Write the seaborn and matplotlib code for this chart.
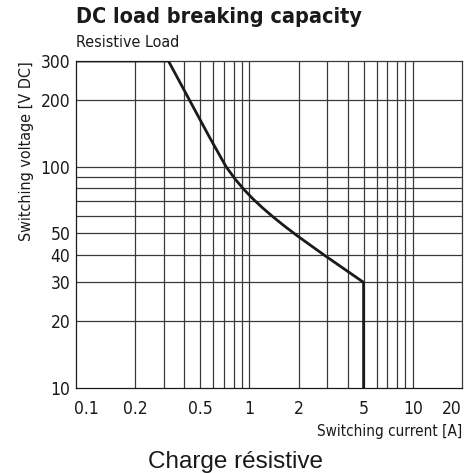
import matplotlib
matplotlib.use('Agg')
import matplotlib.pyplot as plt
import seaborn as sns
import numpy as np

# curve (current [A], voltage [V DC])
current = [0.087, 0.32, 0.43, 0.57, 0.72, 0.82, 0.93, 1.05, 1.2, 1.4, 1.65, 1.95,
           2.4, 2.85, 3.5, 4.2, 5.0, 5.0]
voltage = [300, 300, 200, 136, 100, 87.7, 78.6, 71.6, 65.3, 59.2, 53.7, 48.9,
           43.8, 40.0, 36.0, 32.8, 30, 10]

xticks = [0.1, 0.2, 0.5, 1, 2, 5, 10, 20]
xticklabels = ['0.1', '0.2', '0.5', '1', '2', '5', '10', '20']
yticks = [10, 20, 30, 40, 50, 100, 200, 300]
yticklabels = ['10', '20', '30', '40', '50', '100', '200', '300']
xgrid = [0.2, 0.3, 0.4, 0.5, 0.6, 0.7, 0.8, 0.9, 1, 2, 3, 4, 5, 6, 7, 8, 9, 10]
ygrid = [20, 30, 40, 50, 60, 70, 80, 90, 100, 200]

sns.set_style('white')
plt.rcParams['font.family'] = ['DejaVu Sans']
plt.rcParams['font.stretch'] = 'condensed'

fig = plt.figure(figsize=(4.65, 4.73), dpi=100)
ax = fig.add_axes([76/465, 1 - 388/473, (462-76)/465, (388-61)/473])
ax.set(xscale='log', yscale='log')
ax.set_xlim(0.087, 20)
ax.set_ylim(10, 300)

ax.vlines(xgrid, 10, 300, color='#3a3a3a', lw=0.9, zorder=1)
ax.hlines(ygrid, 0.087, 20, color='#3a3a3a', lw=0.9, zorder=1)

sns.lineplot(x=current, y=voltage, sort=False, estimator=None, color='#1a1a1a',
             lw=2.0, ax=ax, zorder=3)

ax.xaxis.set_major_locator(matplotlib.ticker.FixedLocator(xticks))
ax.xaxis.set_minor_locator(matplotlib.ticker.NullLocator())
ax.set_xticklabels(xticklabels)
ax.yaxis.set_major_locator(matplotlib.ticker.FixedLocator(yticks))
ax.yaxis.set_minor_locator(matplotlib.ticker.NullLocator())
ax.set_yticklabels(yticklabels)
ax.tick_params(length=0, labelsize=12.5, colors='#1a1a1a')
ax.tick_params(axis='x', pad=9)
ax.tick_params(axis='y', pad=4)
ax.get_xticklabels()[-1].set_ha('right')

for s in ax.spines.values():
    s.set_color('#3a3a3a')
    s.set_linewidth(0.9)
ax.spines['left'].set_color('#1a1a1a')
ax.spines['bottom'].set_color('#1a1a1a')

ax.set_ylabel('Switching voltage [V DC]', loc='top', fontsize=11.5, color='#1a1a1a', labelpad=5)
ax.set_xlabel('Switching current [A]', loc='right', fontsize=11, color='#1a1a1a', labelpad=4)

fig.text(76/465, 1 - 7/473, 'DC load breaking capacity', fontsize=15.5, fontweight='bold',
         ha='left', va='top', color='#1a1a1a')
fig.text(76/465, 1 - 35/473, 'Resistive Load', fontsize=11.5, ha='left', va='top', color='#1a1a1a')
fig.text(235/465, 1 - 462/473, 'Charge résistive', fontsize=17.5, ha='center', va='center',
         family=['Liberation Sans', 'DejaVu Sans'], stretch='normal', color='#1a1a1a')

fig.savefig('out.png', dpi=100)
